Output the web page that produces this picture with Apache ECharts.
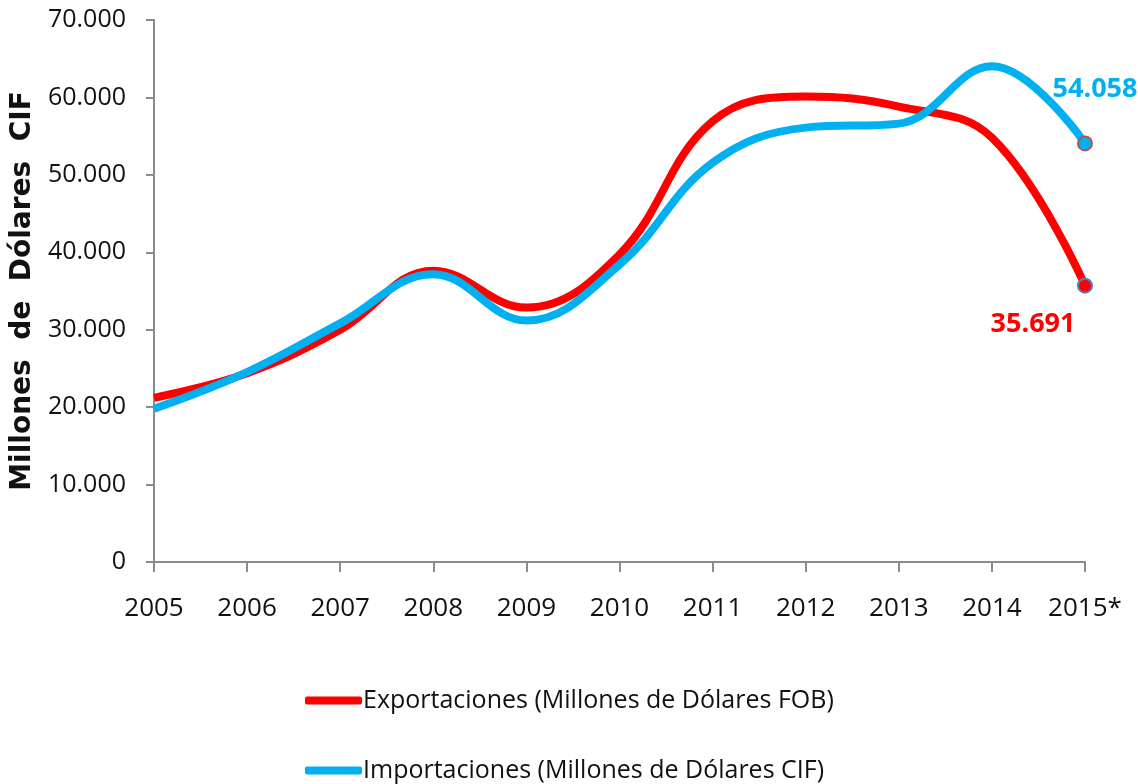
<!DOCTYPE html>
<html>
<head>
<meta charset="utf-8">
<script src="https://cdn.jsdelivr.net/npm/echarts@6/dist/echarts.min.js"></script>
<style>
  html, body { margin: 0; padding: 0; background: #fff; }
  #chart { width: 1138px; height: 784px; }
</style>
</head>
<body>
<div id="chart"></div>
<script>
// datos (millones de dólares)
var years = ['2005', '2006', '2007', '2008', '2009', '2010', '2011', '2012', '2013', '2014', '2015*'];
var exportaciones = [21190, 24391, 29991, 37626, 32853, 39713, 56915, 60125, 58824, 54795, 35691];
var importaciones = [19799, 24534, 30816, 37155, 31188, 38406, 51556, 56102, 56620, 64029, 54058];
var yTicks = [0, 10000, 20000, 30000, 40000, 50000, 60000, 70000];

var nomExp = 'Exportaciones (Millones de Dólares FOB)';
var nomImp = 'Importaciones (Millones de Dólares CIF)';

var FONT = '"Open Sans", sans-serif';

function fmt(v) {
  return String(v).replace(/\B(?=(\d{3})+(?!\d))/g, '.');
}

// solo el ultimo punto lleva marcador y etiqueta
function buildData(values, color, border, labelOpts) {
  return values.map(function (v, i) {
    if (i !== values.length - 1) return v;
    return {
      value: v,
      symbol: 'circle',
      symbolSize: 14,
      itemStyle: { color: color, borderColor: border, borderWidth: 2 },
      label: Object.assign({
        show: true,
        formatter: function (p) { return fmt(p.value); },
        color: color,
        fontFamily: FONT,
        fontWeight: 'bold',
        fontSize: 27
      }, labelOpts)
    };
  });
}

function legendRow(name, top) {
  return {
    orient: 'vertical',
    left: 300,
    top: top,
    itemWidth: 57,
    itemHeight: 8,
    icon: 'roundRect',
    textStyle: { fontFamily: FONT, fontSize: 25, color: '#111', padding: [0, 0, 0, -4] },
    data: [name]
  };
}

var chart = echarts.init(document.getElementById('chart'));
chart.setOption({
  backgroundColor: '#fff',
  animation: false,
  grid: { left: 154, right: 53, top: 20, bottom: 222 },
  legend: [legendRow(nomExp, 683), legendRow(nomImp, 753)],
  xAxis: {
    type: 'category',
    data: years,
    boundaryGap: false,
    axisLine: { lineStyle: { color: '#8c8c8c', width: 2 } },
    axisTick: { show: true, length: 10, interval: 0, lineStyle: { color: '#8c8c8c', width: 2 } },
    axisLabel: { fontFamily: FONT, fontSize: 26, color: '#111', margin: 34, interval: 0 }
  },
  yAxis: {
    type: 'value',
    min: 0,
    max: 70000,
    interval: 10000,
    name: 'Millones  de  Dólares  CIF',
    nameLocation: 'middle',
    nameGap: 112,
    nameTextStyle: { fontFamily: '"DejaVu Sans", sans-serif', fontWeight: 'bold', fontSize: 28, color: '#111' },
    axisLine: { show: true, lineStyle: { color: '#8c8c8c', width: 2 } },
    axisTick: { show: true, length: 8, lineStyle: { color: '#8c8c8c', width: 2 } },
    splitLine: { show: false },
    axisLabel: {
      fontFamily: FONT, fontSize: 25, color: '#111', margin: 28,
      formatter: function (v) { return yTicks.indexOf(v) >= 0 ? fmt(v) : ''; }
    }
  },
  series: [
    {
      name: nomExp,
      type: 'line',
      smooth: 0.4,
      symbol: 'none',
      lineStyle: { color: '#ff0000', width: 8 },
      itemStyle: { color: '#ff0000' },
      data: buildData(exportaciones, '#ff0000', '#4f81bd', { position: 'bottom', offset: [-52, 12] }),
      z: 2
    },
    {
      name: nomImp,
      type: 'line',
      smooth: 0.4,
      symbol: 'none',
      lineStyle: { color: '#00b0f0', width: 8 },
      itemStyle: { color: '#00b0f0' },
      data: buildData(importaciones, '#00b0f0', '#c0504d', { position: 'top', offset: [10, -28] }),
      z: 3
    }
  ]
});
</script>
</body>
</html>
